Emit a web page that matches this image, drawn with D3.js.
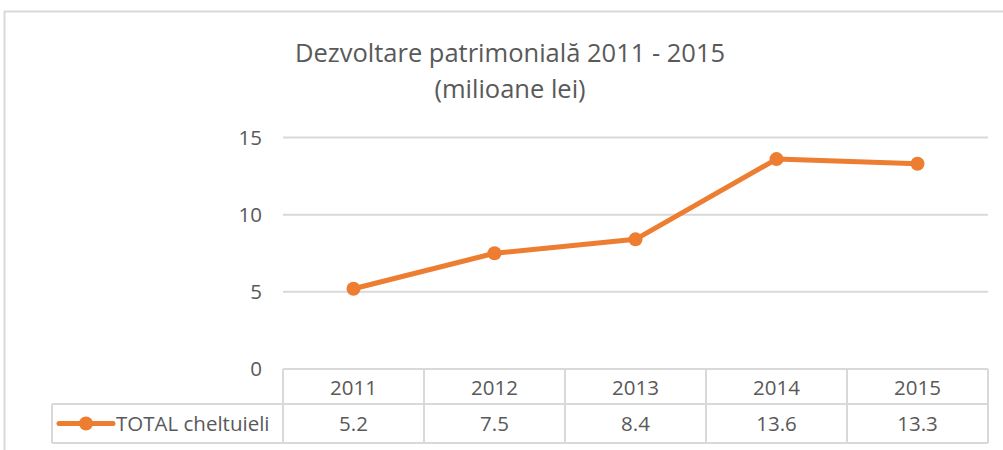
<!DOCTYPE html>
<html>
<head>
<meta charset="utf-8">
<script src="https://cdn.jsdelivr.net/npm/d3@7"></script>
<style>
  body { margin: 0; background: #fff; }
  text { font-family: "Open Sans", "Liberation Sans", sans-serif; fill: #595959; }
</style>
</head>
<body>
<script>
// data
var years = ["2011", "2012", "2013", "2014", "2015"];
var totals = [5.2, 7.5, 8.4, 13.6, 13.3];
var yTicks = [0, 5, 10, 15];
var seriesName = "TOTAL cheltuieli";

var width = 1003, height = 450;
var orange = "#ED7D31", grid = "#d9d9d9";

var svg = d3.select("body").append("svg")
    .attr("width", width)
    .attr("height", height);

// chart frame (top + left only visible)
svg.append("path")
    .attr("d", "M4.5,450 V11.5 H1003")
    .attr("fill", "none")
    .attr("stroke", grid)
    .attr("stroke-width", 2);

// title
svg.append("text")
    .attr("x", 510).attr("y", 62)
    .attr("text-anchor", "middle")
    .style("font-size", "25.5px")
    .text("Dezvoltare patrimonială 2011 - 2015");
svg.append("text")
    .attr("x", 510).attr("y", 98)
    .attr("text-anchor", "middle")
    .style("font-size", "25.5px")
    .text("(milioane lei)");

var x = d3.scaleBand().domain(years).range([283, 988]);
var y = d3.scaleLinear().domain([0, 15]).range([369, 137.5]);

// gridlines
svg.selectAll(".grid")
    .data(yTicks.filter(function(d){ return d > 0; }))
  .enter().append("line")
    .attr("class", "grid")
    .attr("x1", 283).attr("x2", 988)
    .attr("y1", function(d){ return y(d); })
    .attr("y2", function(d){ return y(d); })
    .attr("stroke", grid)
    .attr("stroke-width", 2);

// y tick labels
svg.selectAll(".ytick")
    .data(yTicks)
  .enter().append("text")
    .attr("class", "ytick")
    .attr("x", 262)
    .attr("y", function(d){ return y(d) + 7; })
    .attr("text-anchor", "end")
    .style("font-size", "20.5px")
    .text(function(d){ return d; });

// data table
var rowTop = 369, rowMid = 404, rowBot = 443, legLeft = 52;
var tbl = svg.append("g").attr("fill", "none").attr("stroke", grid).attr("stroke-width", 2);
tbl.append("line").attr("x1", 283).attr("x2", 988).attr("y1", rowTop).attr("y2", rowTop);
tbl.append("line").attr("x1", legLeft).attr("x2", 988).attr("y1", rowMid).attr("y2", rowMid);
tbl.append("line").attr("x1", legLeft).attr("x2", 988).attr("y1", rowBot).attr("y2", rowBot);
tbl.append("line").attr("x1", legLeft).attr("x2", legLeft).attr("y1", rowMid).attr("y2", rowBot);
tbl.selectAll(".col")
    .data(years.concat(["end"]))
  .enter().append("line")
    .attr("x1", function(d, i){ return i < years.length ? x(d) : x.range()[1]; })
    .attr("x2", function(d, i){ return i < years.length ? x(d) : x.range()[1]; })
    .attr("y1", rowTop).attr("y2", rowBot);

svg.selectAll(".yearlbl")
    .data(years)
  .enter().append("text")
    .attr("x", function(d){ return x(d) + x.bandwidth() / 2; })
    .attr("y", 395)
    .attr("text-anchor", "middle")
    .style("font-size", "20.5px")
    .text(function(d){ return d; });

svg.selectAll(".vallbl")
    .data(totals)
  .enter().append("text")
    .attr("x", function(d, i){ return x(years[i]) + x.bandwidth() / 2; })
    .attr("y", 431)
    .attr("text-anchor", "middle")
    .style("font-size", "20.5px")
    .text(function(d){ return d.toFixed(1); });

// legend key in the table
svg.append("line")
    .attr("x1", 59).attr("x2", 113).attr("y1", 423.5).attr("y2", 423.5)
    .attr("stroke", orange).attr("stroke-width", 5).attr("stroke-linecap", "round");
svg.append("circle").attr("cx", 86).attr("cy", 423.5).attr("r", 7).attr("fill", orange);
svg.append("text")
    .attr("x", 116).attr("y", 431)
    .style("font-size", "20.5px")
    .text(seriesName);

// the line
var line = d3.line()
    .x(function(d, i){ return x(years[i]) + x.bandwidth() / 2; })
    .y(function(d){ return y(d); });

svg.append("path")
    .datum(totals)
    .attr("d", line)
    .attr("fill", "none")
    .attr("stroke", orange)
    .attr("stroke-width", 5)
    .attr("stroke-linejoin", "round");

svg.selectAll(".dot")
    .data(totals)
  .enter().append("circle")
    .attr("class", "dot")
    .attr("cx", function(d, i){ return x(years[i]) + x.bandwidth() / 2; })
    .attr("cy", function(d){ return y(d); })
    .attr("r", 7)
    .attr("fill", orange);
</script>
</body>
</html>
